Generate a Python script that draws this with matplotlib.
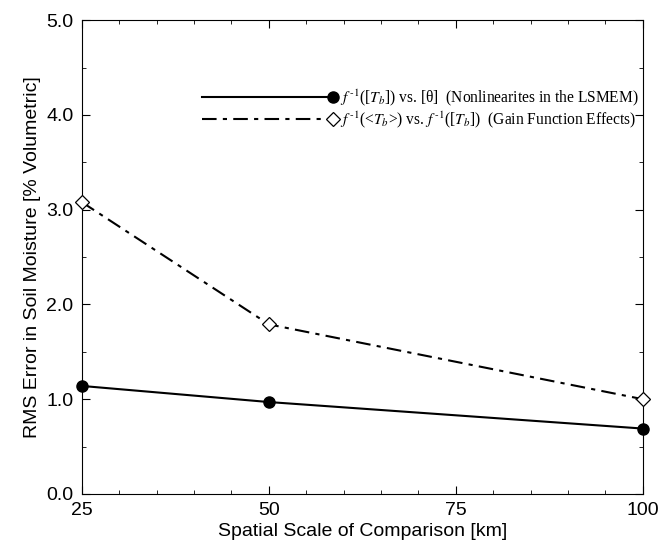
import matplotlib
matplotlib.use("Agg")
import matplotlib.pyplot as plt
from matplotlib.ticker import MultipleLocator
from matplotlib.legend_handler import HandlerLine2D

# data
scale_km = [25, 50, 100]
err_lsmem = [1.14, 0.97, 0.69]
err_gain = [3.08, 1.79, 1.00]

label_lsmem = r"$f^{\,\text{-}1}$([$T_b$]) vs. [θ]  (Nonlinearites in the LSMEM)"
label_gain = r"$f^{\,\text{-}1}$(<$T_b$>) vs. $f^{\,\text{-}1}$([$T_b$])  (Gain Function Effects)"

plt.rcParams["mathtext.fontset"] = "stix"
plt.rcParams["font.family"] = ["Liberation Sans", "DejaVu Sans"]


# legend handle with the marker at the right end of the line
class EndMarkerHandler(HandlerLine2D):
    def create_artists(self, *args, **kwargs):
        arts = super().create_artists(*args, **kwargs)
        for a in arts:
            n = len(a.get_xdata())
            a.set_markevery([n - 1])
        return arts


fig = plt.figure(figsize=(6.6, 5.47), dpi=100)
ax = fig.add_axes([0.124, 0.097, 0.85, 0.866])

l1, = ax.plot(scale_km, err_lsmem, color="black", lw=1.5, marker="o", ms=8,
              mfc="black", mec="black", label=label_lsmem, clip_on=False, zorder=3)
l2, = ax.plot(scale_km, err_gain, color="black", lw=1.5, ls=(0, (7, 3, 2, 3)),
              marker="D", ms=7.5, mfc="white", mec="black", mew=0.9,
              label=label_gain, clip_on=False, zorder=3)

ax.set_xlim(25, 100)
ax.set_ylim(0, 5)
ax.set_xticks([25, 50, 75, 100])
ax.xaxis.set_minor_locator(MultipleLocator(5))
ax.set_yticks([0, 1, 2, 3, 4, 5])
ax.set_yticklabels(["0.0", "1.0", "2.0", "3.0", "4.0", "5.0"])
ax.yaxis.set_minor_locator(MultipleLocator(0.5))
ax.tick_params(which="both", direction="in", top=True, right=True,
               labelsize=14, pad=6)
ax.tick_params(which="major", length=6)
ax.tick_params(which="minor", length=3)

ax.set_xlabel("Spatial Scale of Comparison [km]", fontsize=14, labelpad=3)
ax.set_ylabel("RMS Error in Soil Moisture [% Volumetric]", fontsize=14, labelpad=4)

leg = ax.legend(loc="upper left", bbox_to_anchor=(0.19, 0.887), frameon=False,
                handlelength=8.4, handletextpad=0.45, labelspacing=0.05,
                handler_map={l1: EndMarkerHandler(numpoints=1),
                             l2: EndMarkerHandler(numpoints=1)},
                prop={"family": "Liberation Serif", "size": 11.2})

fig.savefig("out.png", dpi=100)
